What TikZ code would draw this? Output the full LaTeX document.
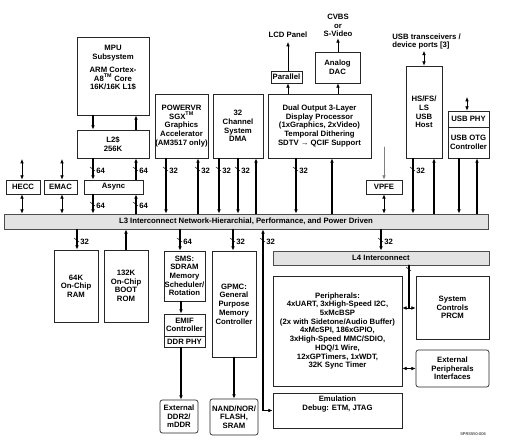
\documentclass[tikz,border=0pt]{standalone}
\usepackage{fontspec}
\setmainfont{Liberation Sans}
\usetikzlibrary{arrows.meta}
\newcommand{\pxu}{0.3mm}

\begin{document}
\begin{tikzpicture}[x=0.3mm,y=-0.3mm,>={Latex[length=1.3mm,width=1.1mm]},
  font=\fontsize{6.6}{7.4}\selectfont\bfseries,line cap=round,
  sz/.style 2 args={minimum width=#1*\pxu,minimum height=#2*\pxu},
  blk/.style={draw=black!85,line width=0.6pt,fill=white,align=center,inner sep=0pt},
  rblk/.style={blk,rounded corners=2pt},
  ic/.style={draw=black!70,line width=0.6pt,fill=gray!22,inner sep=0pt},
  link/.style={line width=1pt},
  io/.style={line width=0.6pt},
  tick/.style={line width=0.4pt},
  wd/.style={right,inner sep=1pt}]
\useasboundingbox (0,0) rectangle (507,443);
% upper row
\node[blk,sz={72}{78}] (mpu) at (113,76) {};
\node[anchor=north,align=center,inner sep=0pt] (mputxt) at (113,45) {MPU\\Subsystem\\[4pt]ARM Cortex-\\A8\textsuperscript{TM} Core\\16K/16K L1\$};
\node[blk,sz={72}{28}] (l2) at (113,144) {L2\$\\256K};
\node[blk,sz={59}{14}] (async) at (113.5,187) {Async};
\node[blk,sz={34}{14}] (hecc) at (23,187) {HECC};
\node[blk,sz={33}{14}] (emac) at (60.5,187) {EMAC};
\node[blk,sz={53}{64}] (sgx) at (181.5,126) {POWERVR\\SGX\textsuperscript{TM}\\Graphics\\Accelerator\\(AM3517 only)};
\node[blk,sz={50}{64}] (dma) at (238,126) {32\\Channel\\System\\DMA};
\node[blk,sz={103}{64}] (dss) at (319.5,126) {Dual Output 3-Layer\\Display Processor\\(1xGraphics, 2xVideo)\\Temporal Dithering\\SDTV → QCIF Support};
\node[blk,sz={31}{12}] (par) at (286.5,77) {Parallel};
\node[blk,sz={45}{31}] (dac) at (337.5,67.5) {Analog\\DAC};
\node (lcd) at (288,35) {LCD Panel};
\node[align=center,inner sep=1pt] (cvbs) at (338,25.5) {CVBS\\or\\S-Video};
\node[blk,sz={36}{14}] (vpfe) at (384,187) {VPFE};
\node[blk,sz={36}{92}] (host) at (424,112) {HS/FS/\\LS\\USB\\Host};
\node[align=left,anchor=west,inner sep=1pt] (usbio) at (391,41.5) {USB transceivers /\\device ports [3]};
\node[blk,sz={41}{16}] (phy) at (468.5,119) {USB PHY};
\node[blk,sz={41}{31}] (otg) at (468.5,142.5) {USB OTG\\Controller};
% interconnects
\node[ic,sz={484}{15}] (l3) at (246,221.5) {L3 Interconnect Network-Hierarchial, Performance, and Power Driven};
\node[ic,sz={216}{14}] (l4) at (381,258) {L4 Interconnect};
% lower row
\node[blk,sz={44}{72}] (ram) at (76,286) {64K\\On-Chip\\RAM};
\node[blk,sz={44}{72}] (rom) at (126,286) {132K\\On-Chip\\BOOT\\ROM};
\node[blk,sz={41}{50}] (sms) at (184.5,276) {SMS:\\SDRAM\\Memory\\Scheduler/\\Rotation};
\node[blk,sz={41}{22}] (emif) at (184.5,325) {EMIF\\Controller};
\node[blk,sz={41}{11}] (ddrphy) at (184.5,341.5) {DDR PHY};
\node[rblk,sz={38}{33}] (ddr) at (179,416.5) {External\\DDR2/\\mDDR};
\node[blk,sz={44}{106}] (gpmc) at (234,304) {GPMC:\\General\\Purpose\\Memory\\Controller};
\node[rblk,sz={48}{36}] (nand) at (234,417) {NAND/NOR/\\FLASH,\\SRAM};
\node[blk,sz={129}{110}] (per) at (337.5,331) {Peripherals:\\4xUART, 3xHigh-Speed I2C,\\5xMcBSP\\(2x with Sidetone/Audio Buffer)\\4xMcSPI, 186xGPIO,\\3xHigh-Speed MMC/SDIO,\\HDQ/1 Wire,\\12xGPTimers, 1xWDT,\\32K Sync Timer};
\node[blk,sz={73}{63}] (prcm) at (452.5,307.5) {System\\Controls\\PRCM};
\node[rblk,sz={73}{37}] (ext) at (452.5,368.5) {External\\Peripherals\\Interfaces};
\node[blk,sz={129}{35}] (emu) at (337.5,410.5) {};
\node[anchor=north,align=center,inner sep=0pt] (emutxt) at (337.5,396) {Emulation\\Debug: ETM, JTAG};
\node[font=\fontsize{3.4}{4}\selectfont] (sprs) at (473,434) {SPRS550-006};
% MPU side
\draw[link,->] (93,0 |- mpu.south) -- (93,0 |- l2.north);
\draw[link,->] (136,0 |- l2.north) -- (136,0 |- mpu.south);
\draw[link,->] (93,0 |- l2.south) -- (93,0 |- async.north);
\draw[link,->] (136,0 |- async.north) -- (136,0 |- l2.south);
\draw[link,->] (93,0 |- async.south) -- (93,0 |- l3.north);
\draw[link,->] (136,0 |- l3.north) -- (136,0 |- async.south);
\coordinate (heccio) at (22,159);
\coordinate (emacio) at (62,159);
\draw[io,<->] (heccio) -- (heccio |- hecc.north);
\draw[io,<->] (heccio |- hecc.south) -- (heccio |- l3.north);
\draw[io,<->] (emacio) -- (emacio |- emac.north);
\draw[io,<->] (emacio |- emac.south) -- (emacio |- l3.north);
% masters to L3
\draw[link,->] (166,0 |- sgx.south) -- (166,0 |- l3.north);
\draw[link,->] (198,0 |- l3.north) -- (198,0 |- sgx.south);
\draw[link,->] (219,0 |- dma.south) -- (219,0 |- l3.north);
\draw[link,->] (238,0 |- dma.south) -- (238,0 |- l3.north);
\draw[link,->] (256,0 |- l3.north) -- (256,0 |- dma.south);
\draw[link,->] (296,0 |- dss.south) -- (296,0 |- l3.north);
\draw[link,->] (332,0 |- l3.north) -- (332,0 |- dss.south);
\draw[io,->] (288,0 |- dss.north) -- (288,0 |- par.south);
\draw[io,->] (288,0 |- par.north) -- (lcd.south);
\draw[io,->] (338,0 |- dss.north) -- (338,0 |- dac.south);
\draw[io,->] (338,0 |- dac.north) -- (cvbs.south);
\coordinate (vpfein) at (384,147);
\draw[io,->,gray] (vpfein) -- (vpfe.north);
\draw[io,<->] (vpfe.south) -- (vpfe.south |- l3.north);
\draw[io,<->] (424,0 |- usbio.south) -- (424,0 |- host.north);
\draw[link,->] (413,0 |- host.south) -- (413,0 |- l3.north);
\draw[link,->] (434,0 |- l3.north) -- (434,0 |- host.south);
\coordinate (phyio) at (467,97);
\draw[io,<->] (phyio) -- (phyio |- phy.north);
\draw[link,->] (459,0 |- otg.south) -- (459,0 |- l3.north);
\draw[link,->] (477,0 |- l3.north) -- (477,0 |- otg.south);
% L3 to slaves
\draw[link,->] (77,0 |- l3.south) -- (77,0 |- ram.north);
\draw[link,->] (126,0 |- rom.north) -- (126,0 |- l3.south);
\draw[link,->] (180,0 |- l3.south) -- (180,0 |- sms.north);
\draw[link,->] (233,0 |- l3.south) -- (233,0 |- gpmc.north);
\draw[link,<->] (emu.west) -| (263,0 |- l3.south);
\draw[link,->] (381,0 |- l3.south) -- (381,0 |- l4.north);
\draw[link,->] (181,0 |- sms.south) -- (181,0 |- emif.north);
\draw[link,->] (181,0 |- ddrphy.south) -- (181,0 |- ddr.north);
\draw[link,->] (234,0 |- gpmc.south) -- (234,0 |- nand.north);
\coordinate (l4per) at (409,308);
\draw[line width=1.4pt] (l4.south -| l4per) -- (l4per);
\draw[io,<->] (per.east |- l4per) -- (prcm.west |- l4per);
\draw[io,<->] (per.east |- ext.west) -- (ext.west);
% bus widths
\draw[tick] (90,167) -- (95,171) node[wd] {64};
\draw[tick] (133,167) -- (138,171) node[wd] {64};
\draw[tick] (90,202) -- (95,206) node[wd] {64};
\draw[tick] (133,202) -- (138,206) node[wd] {64};
\draw[tick] (163,167) -- (168,171) node[wd] {32};
\draw[tick] (195,167) -- (200,171) node[wd] {32};
\draw[tick] (216,167) -- (221,171) node[wd] {32};
\draw[tick] (235,167) -- (240,171) node[wd] {32};
\draw[tick] (293,167) -- (298,171) node[wd] {32};
\draw[tick] (410,167) -- (415,171) node[wd] {32};
\draw[tick] (74,238) -- (79,242) node[wd] {32};
\draw[tick] (177,238) -- (182,242) node[wd] {64};
\draw[tick] (230,238) -- (235,242) node[wd] {32};
\draw[tick] (260,238) -- (265,242) node[wd] {32};
\draw[tick] (378,238) -- (383,242) node[wd] {32};
\draw[tick] (406,267) -- (411,271);
\end{tikzpicture}
\end{document}
